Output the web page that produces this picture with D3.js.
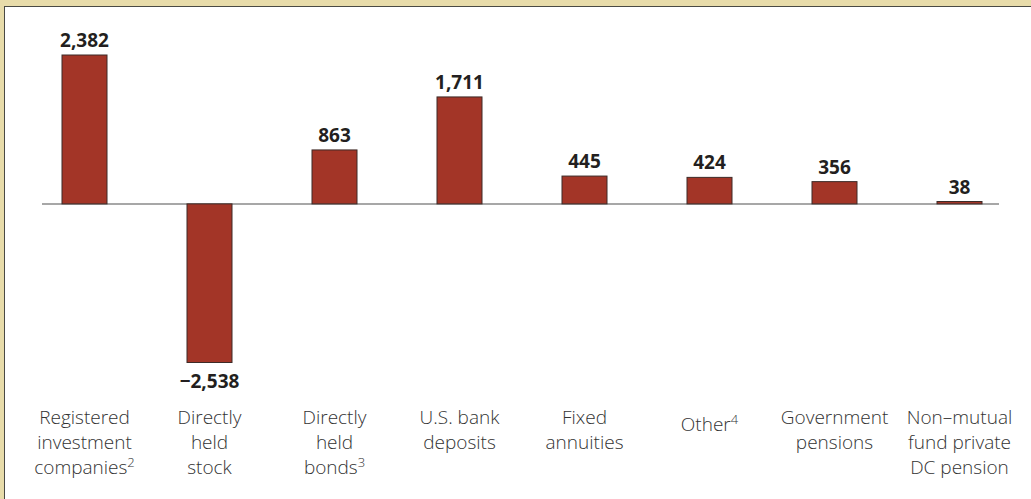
<!DOCTYPE html>
<html>
<head>
<meta charset="utf-8">
<script src="https://cdn.jsdelivr.net/npm/d3@7/dist/d3.min.js"></script>
<style>
  html, body { margin: 0; padding: 0; background: #ffffff; }
  svg { display: block; }
</style>
</head>
<body>
<svg id="chart" width="1031" height="499"></svg>
<script>
// Change in holdings, billions of dollars
const categories = [
  ["Registered", "investment", "companies|2"],
  ["Directly", "held", "stock"],
  ["Directly", "held", "bonds|3"],
  ["U.S. bank", "deposits"],
  ["Fixed", "annuities"],
  ["Other|4"],
  ["Government", "pensions"],
  ["Non\u2013mutual", "fund private", "DC pension"]
];
const values = [2382, -2538, 863, 1711, 445, 424, 356, 38];
const valueLabels = ["2,382", "\u22122,538", "863", "1,711", "445", "424", "356", "38"];

const W = 1031, H = 499;
const svg = d3.select("#chart");

// frame: beige band on top/left with a dark inner edge
svg.append("rect").attr("x", 0).attr("y", 0).attr("width", W).attr("height", H).attr("fill", "#e8dcaa");
svg.append("rect").attr("x", 4).attr("y", 6).attr("width", W - 4).attr("height", H - 6).attr("fill", "#4a4a44");
svg.append("rect").attr("x", 5).attr("y", 7).attr("width", W - 5).attr("height", H - 7).attr("fill", "#ffffff");

const x = d3.scaleBand()
  .domain(d3.range(categories.length))
  .range([22, 1022])
  .paddingInner(0.64)
  .paddingOuter(0.32);

const y = d3.scaleLinear()
  .domain([-2538, 2382])
  .range([362.5, 55]);

// zero line
svg.append("line")
  .attr("x1", 42).attr("x2", 999)
  .attr("y1", y(0)).attr("y2", y(0))
  .attr("stroke", "#8a8a8a").attr("stroke-width", 1.5);

// bars
svg.selectAll("rect.bar")
  .data(values)
  .join("rect")
  .attr("class", "bar")
  .attr("x", (d, i) => x(i))
  .attr("width", x.bandwidth())
  .attr("y", d => y(Math.max(0, d)))
  .attr("height", d => Math.abs(y(d) - y(0)))
  .attr("fill", "#a33527")
  .attr("stroke", "#3d2b28")
  .attr("stroke-width", 1);

// value labels
svg.selectAll("text.val")
  .data(values)
  .join("text")
  .attr("class", "val")
  .attr("x", (d, i) => x(i) + x.bandwidth() / 2)
  .attr("y", d => d >= 0 ? y(d) - 8 : y(d) + 25)
  .attr("text-anchor", "middle")
  .attr("font-family", "'Open Sans', 'Noto Sans', sans-serif")
  .attr("font-weight", 700)
  .attr("font-size", 19)
  .attr("fill", "#231f20")
  .text((d, i) => valueLabels[i]);

// category labels, with superscript note markers
const catG = svg.selectAll("text.cat")
  .data(categories)
  .join("text")
  .attr("class", "cat")
  .attr("text-anchor", "middle")
  .attr("font-family", "'Open Sans', 'Noto Sans', sans-serif")
  .attr("font-weight", 300)
  .attr("font-size", 19)
  .attr("fill", "#333333")
  .attr("transform", (d, i) => {
    const cx = x(i) + x.bandwidth() / 2;
    const top = d.length === 1 ? 431 : 424;
    return `translate(${cx},${top})`;
  });

catG.each(function(lines) {
  const t = d3.select(this);
  lines.forEach((ln, k) => {
    const [main, sup] = ln.split("|");
    t.append("tspan").attr("x", 0).attr("y", k * 25).text(main);
    if (sup) {
      t.append("tspan")
        .attr("dy", -7)
        .attr("font-size", 13)
        .text(sup);
    }
  });
});
</script>
</body>
</html>
